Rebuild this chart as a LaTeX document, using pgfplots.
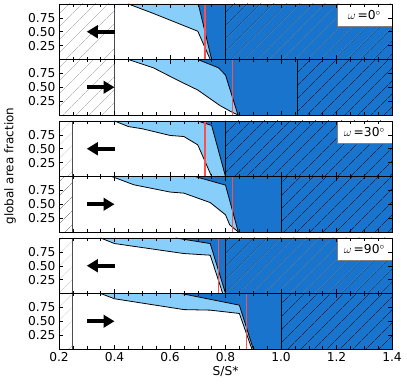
\documentclass[border=0pt]{standalone}
\usepackage{fontspec}
\setmainfont{DejaVu Sans}
\usepackage{pgfplots}
\pgfplotsset{compat=1.18}
\usetikzlibrary{patterns.meta,arrows.meta}

\definecolor{dblue}{RGB}{24,116,205}
\definecolor{lblue}{RGB}{135,206,250}
\definecolor{redline}{RGB}{250,80,80}

\pgfplotsset{
  panel/.style={
    at={(0,#1)}, anchor=south west,
    scale only axis, width=333bp, height=55.5bp,
    xmin=0.2, xmax=1.4, ymin=0, ymax=1,
    xtick={0.2,0.4,0.6,0.8,1.0,1.2,1.4}, minor x tick num=3,
    ytick={0.25,0.5,0.75},
    yticklabel style={/pgf/number format/.cd, fixed, fixed zerofill, precision=2},
    xticklabels={},
    axis on top,
    tick style={black, line width=0.5pt},
    ticklabel style={font=\fontsize{12.3}{14}\selectfont},
    label style={font=\fontsize{12.3}{14}\selectfont},
    xlabel style={yshift=2bp},
    /pgf/number format/assume math mode=true,
  },
  lhatch/.style={draw=none, pattern={Lines[angle=45,distance=9.5bp,line width=0.4pt]}, pattern color=gray!80},
  rhatch/.style={draw=none, pattern={Lines[angle=45,distance=9.5bp,line width=0.4pt]}, pattern color=black},
  curve/.style={black, line width=0.8pt},
  bound/.style={black!70, line width=1.1pt},
  redl/.style={redline, line width=1.2pt},
}
\newcommand{\leftarr}{\draw[line width=4.3bp, -{Triangle[length=11bp,width=12.5bp]}] (axis cs:0.4,0.5) -- (axis cs:0.3,0.5);}
\newcommand{\rightarr}{\draw[line width=4.3bp, -{Triangle[length=11bp,width=12.5bp]}] (axis cs:0.3,0.5) -- (axis cs:0.4,0.5);}
\newcommand{\omegabox}[1]{\node[anchor=north east, fill=white, draw=gray, line width=0.4pt,
  minimum width=55bp, minimum height=22bp, inner sep=2pt, font=\fontsize{12.3}{14}\selectfont]
  at (rel axis cs:1,1) {$\omega$\,=#1$^\circ$};}

\begin{document}
\begin{tikzpicture}

% ---------- panel 1: omega = 0, decreasing ----------
\begin{axis}[panel=289.5bp]
  \addplot[fill=dblue, draw=none] coordinates {(0.4,1)(1.4,1)} \closedcycle;
  \addplot[fill=lblue, draw=none] coordinates {(0.4,1)(0.702,1)(0.75,0)} \closedcycle;
  \addplot[fill=white, draw=none] coordinates {(0.4,1)(0.45,1)(0.54,0.83)(0.70,0.51)(0.745,0)} \closedcycle;
  \addplot[fill=white, draw=none] coordinates {(0.2,1)(0.4,1)} \closedcycle;
  \addplot[lhatch] coordinates {(0.2,1)(0.4,1)} \closedcycle;
  \addplot[rhatch] coordinates {(0.8,1)(1.4,1)} \closedcycle;
  \addplot[curve] coordinates {(0.45,1)(0.54,0.83)(0.70,0.51)(0.745,0)};
  \addplot[curve] coordinates {(0.702,1)(0.75,0)};
  \addplot[black, line width=0.8pt] coordinates {(0.8,0)(0.8,1)};
  \addplot[bound] coordinates {(0.4,0)(0.4,1)};
  \addplot[redl] coordinates {(0.726,0)(0.726,1)};
  \leftarr
  \omegabox{0}
\end{axis}

% ---------- panel 2: omega = 0, increasing ----------
\begin{axis}[panel=234bp]
  \addplot[fill=dblue, draw=none] coordinates {(0.4,1)(1.4,1)} \closedcycle;
  \addplot[fill=lblue, draw=none] coordinates {(0.4,1)(0.70,1)(0.775,0.85)(0.80,0.72)(0.845,0)} \closedcycle;
  \addplot[fill=white, draw=none] coordinates {(0.4,1)(0.45,1)(0.54,0.85)(0.63,0.62)(0.70,0.45)(0.78,0.17)(0.82,0.06)(0.845,0)} \closedcycle;
  \addplot[fill=white, draw=none] coordinates {(0.2,1)(0.4,1)} \closedcycle;
  \addplot[lhatch] coordinates {(0.2,1)(0.4,1)} \closedcycle;
  \addplot[rhatch] coordinates {(1.06,1)(1.4,1)} \closedcycle;
  \addplot[curve] coordinates {(0.45,1)(0.54,0.85)(0.63,0.62)(0.70,0.45)(0.78,0.17)(0.82,0.06)(0.845,0)};
  \addplot[curve] coordinates {(0.70,1)(0.775,0.85)(0.80,0.72)(0.845,0)};
  \addplot[black, line width=0.8pt] coordinates {(1.06,0)(1.06,1)};
  \addplot[bound] coordinates {(0.4,0)(0.4,1)};
  \addplot[redl] coordinates {(0.826,0)(0.826,1)};
  \rightarr
\end{axis}

% ---------- panel 3: omega = 30, decreasing ----------
\begin{axis}[panel=172.5bp]
  \addplot[fill=dblue, draw=none] coordinates {(0.25,1)(1.4,1)} \closedcycle;
  \addplot[fill=lblue, draw=none] coordinates {(0.25,1)(0.70,1)(0.75,0.92)(0.80,0)} \closedcycle;
  \addplot[fill=white, draw=none] coordinates {(0.25,1)(0.40,1)(0.45,0.90)(0.50,0.86)(0.60,0.74)(0.65,0.72)(0.70,0.57)(0.75,0)} \closedcycle;
  \addplot[fill=white, draw=none] coordinates {(0.2,1)(0.25,1)} \closedcycle;
  \addplot[lhatch] coordinates {(0.2,1)(0.25,1)} \closedcycle;
  \addplot[rhatch] coordinates {(0.8,1)(1.4,1)} \closedcycle;
  \addplot[curve] coordinates {(0.40,1)(0.45,0.90)(0.50,0.86)(0.60,0.74)(0.65,0.72)(0.70,0.57)(0.75,0)};
  \addplot[curve] coordinates {(0.70,1)(0.75,0.92)(0.80,0)};
  \addplot[black, line width=0.8pt] coordinates {(0.8,0)(0.8,1)};
  \addplot[bound] coordinates {(0.25,0)(0.25,1)};
  \addplot[redl] coordinates {(0.726,0)(0.726,1)};
  \leftarr
  \omegabox{30}
\end{axis}

% ---------- panel 4: omega = 30, increasing ----------
\begin{axis}[panel=117bp]
  \addplot[fill=dblue, draw=none] coordinates {(0.25,1)(1.4,1)} \closedcycle;
  \addplot[fill=lblue, draw=none] coordinates {(0.25,1)(0.69,1)(0.80,0.845)(0.846,0)} \closedcycle;
  \addplot[fill=white, draw=none] coordinates {(0.25,1)(0.39,1)(0.47,0.85)(0.60,0.72)(0.65,0.70)(0.745,0.53)(0.80,0.31)(0.815,0.13)(0.846,0)} \closedcycle;
  \addplot[fill=white, draw=none] coordinates {(0.2,1)(0.25,1)} \closedcycle;
  \addplot[lhatch] coordinates {(0.2,1)(0.25,1)} \closedcycle;
  \addplot[rhatch] coordinates {(1.0,1)(1.4,1)} \closedcycle;
  \addplot[curve] coordinates {(0.39,1)(0.47,0.85)(0.60,0.72)(0.65,0.70)(0.745,0.53)(0.80,0.31)(0.815,0.13)(0.846,0)};
  \addplot[curve] coordinates {(0.69,1)(0.80,0.845)(0.846,0)};
  \addplot[black, line width=0.8pt] coordinates {(1.0,0)(1.0,1)};
  \addplot[bound] coordinates {(0.25,0)(0.25,1)};
  \addplot[redl] coordinates {(0.826,0)(0.826,1)};
  \rightarr
\end{axis}

% ---------- panel 5: omega = 90, decreasing ----------
\begin{axis}[panel=55.5bp]
  \addplot[fill=dblue, draw=none] coordinates {(0.25,1)(1.4,1)} \closedcycle;
  \addplot[fill=lblue, draw=none] coordinates {(0.25,1)(0.62,1)(0.745,0.90)(0.80,0)} \closedcycle;
  \addplot[fill=white, draw=none] coordinates {(0.25,1)(0.35,1)(0.40,0.90)(0.65,0.72)(0.745,0.69)(0.79,0)} \closedcycle;
  \addplot[fill=white, draw=none] coordinates {(0.2,1)(0.25,1)} \closedcycle;
  \addplot[lhatch] coordinates {(0.2,1)(0.25,1)} \closedcycle;
  \addplot[rhatch] coordinates {(0.8,1)(1.4,1)} \closedcycle;
  \addplot[curve] coordinates {(0.35,1)(0.40,0.90)(0.65,0.72)(0.745,0.69)(0.79,0)};
  \addplot[curve] coordinates {(0.62,1)(0.745,0.90)(0.80,0)};
  \addplot[black, line width=0.8pt] coordinates {(0.8,0)(0.8,1)};
  \addplot[bound] coordinates {(0.25,0)(0.25,1)};
  \addplot[redl] coordinates {(0.776,0)(0.776,1)};
  \leftarr
  \omegabox{90}
\end{axis}

% ---------- panel 6: omega = 90, increasing ----------
\begin{axis}[panel=0bp,
  xticklabels={0.2,0.4,0.6,0.8,1.0,1.2,1.4},
  xlabel={S/S*}]
  \addplot[fill=dblue, draw=none] coordinates {(0.25,1)(1.4,1)} \closedcycle;
  \addplot[fill=lblue, draw=none] coordinates {(0.25,1)(0.64,1)(0.85,0.79)(0.90,0)} \closedcycle;
  \addplot[fill=white, draw=none] coordinates {(0.25,1)(0.35,1)(0.40,0.905)(0.65,0.71)(0.745,0.70)(0.85,0.64)(0.895,0)} \closedcycle;
  \addplot[fill=white, draw=none] coordinates {(0.2,1)(0.25,1)} \closedcycle;
  \addplot[lhatch] coordinates {(0.2,1)(0.25,1)} \closedcycle;
  \addplot[rhatch] coordinates {(1.0,1)(1.4,1)} \closedcycle;
  \addplot[curve] coordinates {(0.35,1)(0.40,0.905)(0.65,0.71)(0.745,0.70)(0.85,0.64)(0.895,0)};
  \addplot[curve] coordinates {(0.64,1)(0.85,0.79)(0.90,0)};
  \addplot[black, line width=0.8pt] coordinates {(1.0,0)(1.0,1)};
  \addplot[bound] coordinates {(0.25,0)(0.25,1)};
  \addplot[redl] coordinates {(0.876,0)(0.876,1)};
  \rightarr
\end{axis}

\node[rotate=90, font=\fontsize{12}{14}\selectfont] at (-49bp,183bp) {global area fraction};

\pgfresetboundingbox
\path[use as bounding box] (-59bp,-42bp) rectangle (348bp,349bp);
\end{tikzpicture}
\end{document}
